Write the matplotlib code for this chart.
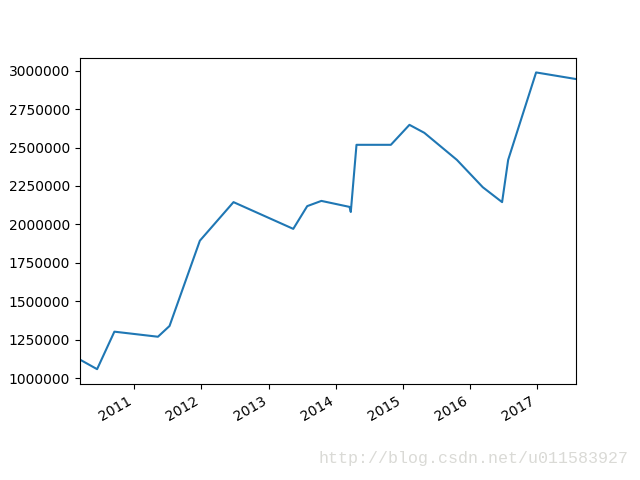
import matplotlib
matplotlib.use("Agg")
import matplotlib.pyplot as plt
import matplotlib.dates as mdates
from matplotlib.ticker import ScalarFormatter
import pandas as pd

dates = ["2010-03-12", "2010-06-13", "2010-09-15", "2011-05-10", "2011-07-12",
         "2011-12-24", "2012-06-24", "2013-05-15", "2013-07-30", "2013-10-15",
         "2014-03-17", "2014-03-24", "2014-04-24", "2014-10-28", "2015-02-06",
         "2015-04-28", "2015-10-22", "2016-03-11", "2016-06-24", "2016-07-27",
         "2016-12-26", "2017-07-31"]
values = [1120000, 1058000, 1302000, 1269000, 1339000,
          1894000, 2145000, 1971000, 2119000, 2153000,
          2114000, 2081000, 2518000, 2518000, 2648000,
          2596000, 2420000, 2242000, 2145000, 2420000,
          2989000, 2946000]

x = pd.to_datetime(dates)

fig, ax = plt.subplots(figsize=(6.4, 4.8), dpi=100)
ax.plot(x, values, color="#1f77b4", linewidth=1.5)
ax.set_xlim(x[0], x[-1])
ax.xaxis.set_major_locator(mdates.YearLocator())
ax.xaxis.set_major_formatter(mdates.DateFormatter("%Y"))
fmt = ScalarFormatter(useOffset=False)
fmt.set_scientific(False)
ax.yaxis.set_major_formatter(fmt)
fig.autofmt_xdate()
fig.subplots_adjust(left=0.125, right=0.9, top=0.88, bottom=0.2)

fig.text(0.982, 0.044, "http://blog.csdn.net/u011583927", ha="right", va="center",
         fontsize=12, family="Liberation Mono", color="#dadad6")

fig.savefig("out.png", dpi=100)
